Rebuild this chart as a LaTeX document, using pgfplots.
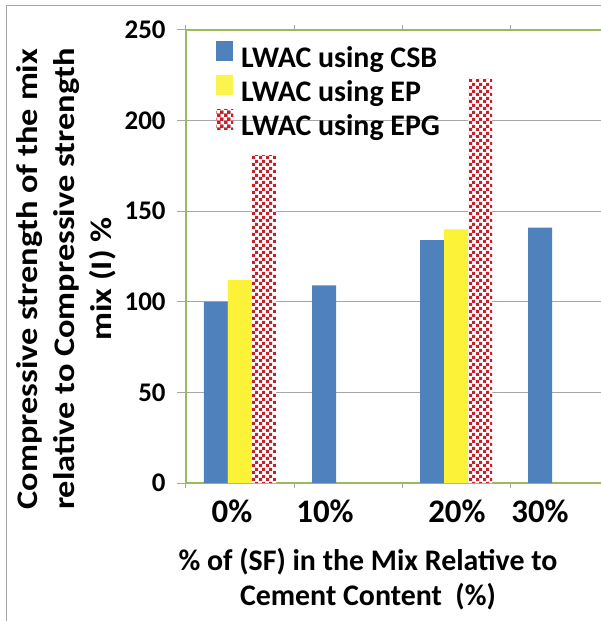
\documentclass[border=0pt]{standalone}
\usepackage{fontspec}
\setmainfont{Carlito}
\usepackage{pgfplots}
\pgfplotsset{compat=1.18}
\usetikzlibrary{patterns}
\definecolor{csb}{HTML}{4F81BD}
\definecolor{epy}{HTML}{FCF21C}
\definecolor{epgred}{HTML}{C8202A}
\definecolor{axgreen}{HTML}{9BBB59}
\definecolor{gridgray}{HTML}{A6A6A6}
\pgfdeclarepatternformonly{bigcheck}{\pgfpointorigin}{\pgfqpoint{7bp}{7bp}}{\pgfqpoint{7bp}{7bp}}{%
 \pgfpathrectangle{\pgfpointorigin}{\pgfqpoint{3.6bp}{3.6bp}}%
 \pgfpathrectangle{\pgfqpoint{3.5bp}{3.5bp}}{\pgfqpoint{3.6bp}{3.6bp}}%
 \pgfusepath{fill}}
\pgfdeclarepatternformonly{finedots}{\pgfqpoint{-0.6bp}{-0.6bp}}{\pgfqpoint{0.6bp}{0.6bp}}{\pgfqpoint{2bp}{2bp}}{%
 \pgfpathcircle{\pgfpointorigin}{0.6bp}\pgfusepath{fill}}
\begin{document}
\begin{tikzpicture}
\useasboundingbox (-186bp,-138bp) rectangle (415bp,483bp);
\draw[gridgray, line width=1bp] (-179bp,-145bp) -- (-179bp,477bp) -- (425bp,477bp);
\begin{axis}[
 scale only axis, width=420bp, height=453bp,
 xmin=-0.5, xmax=3.3889, ymin=0, ymax=250,
 ybar=0pt, bar width=24bp,
 axis line style={axgreen, line width=1.2bp},
 ytick={0,50,...,250},
 ymajorgrids, grid style={gridgray, line width=1bp},
 tick style={gridgray, line width=1bp},
 tick align=outside,
 ytick style={/pgfplots/major tick length=9bp},
 xtick style={/pgfplots/major tick length=5bp},
 xtick={-0.5,0.5,1.5,2.5}, xticklabels={},
 extra x ticks={-0.074,0.787,2.009,2.778},
 extra x tick labels={0\%,10\%,20\%,30\%},
 extra x tick style={major tick length=0pt, grid=none, tick style={draw=none}},
 /pgf/number format/assume math mode=true,
 yticklabel style={font=\bfseries\fontsize{27}{27}\selectfont, inner sep=0pt, anchor=east, xshift=-16bp},
 xticklabel style={font=\bfseries\fontsize{33}{33}\selectfont, inner sep=0pt, anchor=north, yshift=-17bp},
 xlabel={\% of (SF) in the Mix Relative to\\Cement Content\ \ (\%)},
 xlabel style={align=center, font=\bfseries\fontsize{30}{35}\selectfont, inner sep=0pt,
   at={(axis description cs:0.4333,0)}, anchor=north, yshift=-65bp},
 ylabel={\scalebox{1.15}[1]{\fontsize{30}{37}\selectfont\bfseries\begin{tabular}{@{}c@{}}Compressive strength of the mix\\relative to Compressive strength\\mix (I) \%\end{tabular}}},
 ylabel style={inner sep=0pt, at={(axis description cs:-0.2833,0.45)}, anchor=center},
 legend style={at={(axis description cs:0.0714,1)}, anchor=north west, yshift=-11bp,
   draw=none, fill=none, inner sep=0pt, row sep=0bp, column sep=8bp,
   font=\bfseries\fontsize{30}{30}\selectfont,
   nodes={inner sep=0pt, text height=20bp, text depth=8bp}},
 legend cell align=left,
]
\addplot[fill=csb, draw=none,
  legend image code/.code={\fill[csb] (0bp,0bp) rectangle (17bp,20bp);}]
  coordinates {(0,100) (1,109) (2,134) (3,141)};
\addlegendentry{LWAC using CSB}
\addplot[fill=epy, draw=none, postaction={pattern=finedots, pattern color=white!55!epy},
  legend image code/.code={\fill[epy, postaction={pattern=finedots, pattern color=white!55!epy}] (0bp,0bp) rectangle (17bp,20bp);}]
  coordinates {(0,112) (2,140)};
\addlegendentry{LWAC using EP}
\addplot[fill=white, draw=none, postaction={pattern=bigcheck, pattern color=epgred},
  legend image code/.code={\fill[white, postaction={pattern=bigcheck, pattern color=epgred}] (0bp,0bp) rectangle (17bp,20bp);}]
  coordinates {(0,181) (2,223)};
\addlegendentry{LWAC using EPG}
\end{axis}
\end{tikzpicture}
\end{document}
